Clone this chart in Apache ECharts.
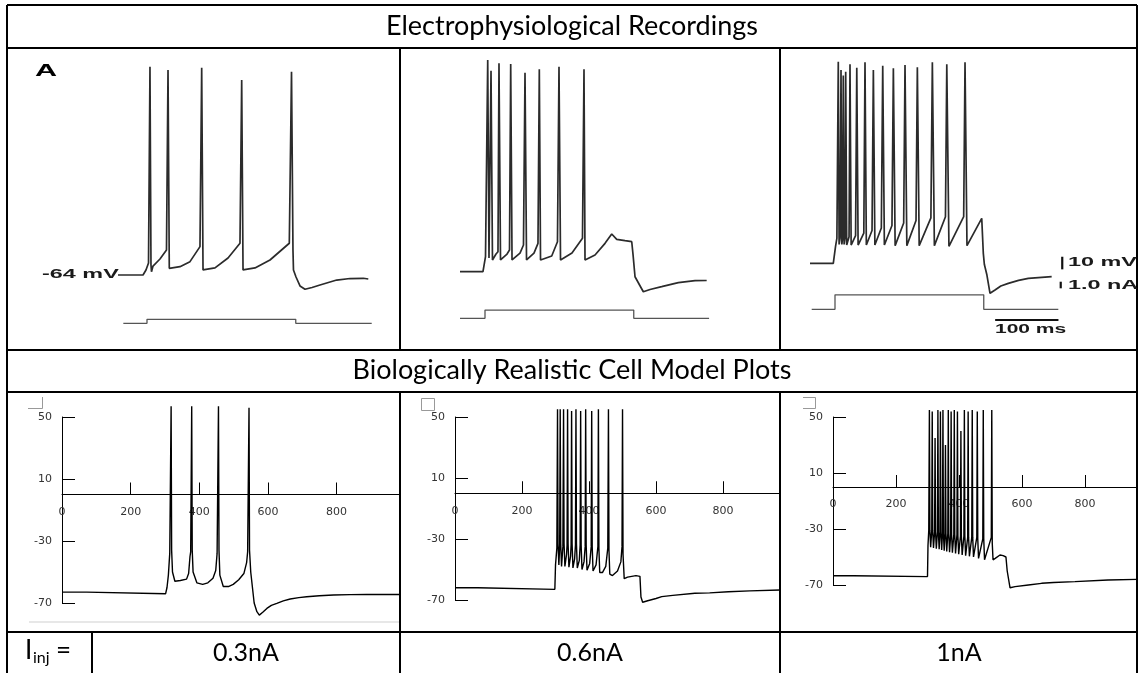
<!DOCTYPE html>
<html>
<head>
<meta charset="utf-8">
<script src="https://cdn.jsdelivr.net/npm/echarts@6/dist/echarts.min.js"></script>
<style>
  html, body { margin: 0; padding: 0; background: #fff; }
  #chart { width: 1139px; height: 673px; }
</style>
</head>
<body>
<div id="chart"></div>
<script>
// ---- Text ----
const headerTop = 'Electrophysiological Recordings';
const headerBottom = 'Biologically Realistic Cell Model Plots';
const currents = ['0.3nA', '0.6nA', '1nA'];

// ---- Model plot ticks ----
const yTickValues = [-70, -30, 10, 50];
const xTickValues = [0, 200, 400, 600, 800];

// ---- Recorded membrane potential, [ms from step onset, mV] ----
const rec03 = [
  [-45.8,-64],[-6.3,-64],[-1.6,-60],[2.4,-54.5],[4.7,101.3],[6.3,-56.1],[7.1,-61.4],[9.5,-56.9],[20.5,-51.3],[30.8,-44.2],
  [33.2,98.7],[35.2,-58.7],[52.1,-57.4],[67.9,-53.4],[83.7,-41.5],
  [86.4,100.5],[88.5,-60],[107.4,-58.4],[128,-50.5],[146.9,-38.8],
  [149.6,90.8],[151.7,-60],[170.6,-58.4],[194.3,-52.1],[224.8,-38.8],
  [228.3,97.3],[230.6,-44.2],[231.4,-60],[235.4,-65.6],[241.7,-72.7],[249.6,-75.3],[260.7,-73.9],[273.3,-71.9],
  [299.7,-68],[320.7,-66.8],[341.7,-66.6],[349.6,-67.2]
];
const rec06 = [
  [-39.5,-64],[-3.2,-64],[0.8,-52.1],
  [4.3,104],[6.3,-53.1],
  [9.5,95.5],[11.8,-54.7],[17.4,-50],[20.5,-48.1],
  [22.1,101.4],[24.5,-54.7],[34.8,-50],[38.7,-46.8],
  [40.6,100.8],[42.7,-54.7],[55.3,-49.2],[60.8,-42.8],
  [63.2,93.9],[65.6,-54.7],[77.4,-49.2],[83.7,-41.5],
  [85.8,96.6],[87.7,-54.7],[105.4,-51.5],[114.5,-40.2],
  [116.9,98.7],[119.3,-54.7],[137.4,-49.2],[154,-37.5],
  [156.4,96.6],[158,-54.7],[173.8,-50.7],[189.6,-41.5],[200.2,-34.1],[208.1,-38.3],[221.2,-39.4],[231.8,-40.2],
  [233.9,-50.7],[237,-68],[250.1,-79.9],[260.7,-78.1],[279.1,-75.9],[305.4,-72.7],[331.8,-71.1],[350.2,-71]
];
const rec10 = [
  [-39.5,-64],[-2.7,-64],[0.8,-50.8],[3,-44],
  [5.2,96],[6.5,-49],[8,-44],
  [9.5,89.4],[10.8,-49],[12,-44],
  [13.1,85],[14.4,-49],[15.8,-44],
  [16.9,88.1],[18.5,-49.5],[22.2,-43],
  [23.7,94],[25.5,-49.5],[32.5,-42],
  [34.4,91.2],[36.5,-49.5],[45.5,-40],
  [47.4,95.5],[49.5,-49.5],[58.5,-38],
  [60.6,89.4],[63,-49.5],[73.2,-36],
  [75.4,92.8],[78,-49.5],[90,-34],
  [92.2,90.8],[95,-50],[108.5,-32],
  [110.6,93.4],[113.5,-50],[128,-30],
  [130.1,91.6],[133,-50],[151.5,-28],
  [153.8,95.5],[157,-50],[174.5,-27],
  [176.6,94],[180,-50.5],[203.3,-27],
  [205.4,95.5],[208.5,-50],[231.8,-28.3],[234.3,-56.1],[236,-65],
  [240,-73.3],[244.9,-87.8],[252.8,-85.2],[262,-82],[273.8,-79.9],[290,-77.5],[305.4,-75.9],[342.3,-74.6]
];

// ---- Injected current steps, [ms from step onset, nA] ----
const stim03 = [[-37.4,0],[0,0],[0,0.6],[235,0.6],[235,0],[355,0]];
const stim06 = [[-39.5,0],[0,0],[0,1.25],[235,1.25],[235,0],[354,0]];
const stim10 = [[-36.8,0],[0,0],[0,2.2],[235,2.2],[235,0],[352.8,0]];

// ---- Scale bars of the recordings ----
const barMs = [[253,-109],[353,-109]];   // 100 ms
const barMv = [[359,-58.8],[359,-68.8]]; // 10 mV
const barNa = [[356.6,4.18],[356.6,3.18]]; // 1.0 nA

// ---- Model membrane potential, [ms, mV] ----
const model03 = [
  [0,-63],[72,-63],[76,-64],[302,-64],[306,-60],[310,-52],[314,-38],
  [318,57],[319.5,-36],[322,-50],[329,-56],[345,-55.5],[363,-54.6],[369,-51],[373,-40],[375,-37],
  [378,57],[379.5,-36],[382,-50],[393,-57],[410,-58],[425,-57],[440,-54],[448,-49],[452,-38],
  [456,57],[457.5,-36],[460,-52],[470,-59.4],[485,-59.4],[499,-58],[515,-55],[530,-51],[538,-44],[541,-37],
  [545,56],[546.5,-36],[550,-50],[560,-70],[568,-75.6],[575,-77.8],[585,-76],[597,-73.5],[610,-71.5],
  [626,-70.2],[645,-68.6],[665,-67.4],[690,-66.5],[713,-66],[750,-65.3],[791,-64.8],[840,-64.6],[888,-64.5],[985,-64.5]
];
const model06 = [
  [0,-62],[68,-62],[72,-63],[298,-63],[300,-47],[304,-36],
  [306,55],[307.5,-33],[310,-47],[312.5,-34],
  [314,55],[315.5,-33],[318,-48],[322,-35],
  [324,55],[325.5,-33],[328,-48],[333,-40],[334.5,-34],
  [336,55],[337.5,-33],[340,-48.5],[345,-41],[346.5,-34],
  [348,54],[349.5,-33],[352,-49],[357,-43],[359.5,-34],
  [361,55],[362.5,-33],[365,-49],[371,-44],[373.5,-34],
  [375,54],[376.5,-34],[379,-50],[385,-45],[388.5,-35],
  [390,55],[391.5,-34],[394,-50.5],[402,-46],[406.5,-35],
  [408,54],[409.5,-35],[412,-51],[421,-47],[426.5,-35],
  [428,55],[429.5,-36],[432,-52],[440,-52],[450,-48],[456,-36],
  [458,55],[459.5,-37],[462,-53],[470,-54],[485,-51],[495,-45],[498.5,-35],
  [500,55],[501.5,-40],[505,-56],[515,-55],[540,-54],[552,-54.5],[555,-68],[560,-71.5],[575,-70.5],
  [600,-69],[617,-67.8],[650,-67],[716,-65.6],[760,-65.3],[816,-64.6],[880,-64],[970,-63.4]
];
const model10 = [
  [0,-63.4],[65,-63.4],[70,-64],[300,-64],[301.5,-42],[304,-31],
  [306,55],[307.5,-31],[310,-43],[313.5,-31],
  [315,54],[316.5,-31],[319,-43.5],[322.5,-32],
  [324,35],[325.5,-32],[328,-44],[331.5,-32],
  [333,55],[334.5,-32],[337,-44.5],[339.5,-32],
  [341,54],[342.5,-32],[345,-45],[347.5,-33],
  [349,55],[350.5,-33],[353,-45.5],[355.5,-33],
  [357,30],[358.5,-33],[361,-46],[364.5,-33],
  [366,55],[367.5,-33],[370,-46.5],[373.5,-34],
  [375,54],[376.5,-34],[379,-47],[383.5,-34],
  [385,55],[386.5,-34],[389,-47.5],[393.5,-34],
  [395,54],[396.5,-35],[399,-48],[404.5,-35],
  [406,40],[407.5,-35],[410,-48.5],[415.5,-35],
  [417,55],[418.5,-35],[421,-49],[427.5,-36],
  [429,54],[430.5,-36],[433,-49.5],[440.5,-36],
  [442,55],[443.5,-36],[446,-50],[456.5,-36],
  [458,54],[459.5,-37],[462,-51],[475.5,-37],
  [477,55],[478.5,-37],[481,-52],[502.5,-36],
  [504,55],[505.5,-40],[508,-52],[515,-51],[530,-48.6],[540,-49],[549,-50],[553,-60],[562,-72],
  [578,-71.2],[620,-70],[662,-68.8],[700,-68.2],[768,-67.6],[873,-66.4],[965,-66]
];

// ---- Layout ----
const TABLE = { left: 7, right: 1137, top: 5, rows: [48, 350, 392, 632], bottom: 673, cols: [400, 780], labelCol: 92 };
const FONT = 'Lato, "Open Sans", sans-serif';

// recording panels: pixel scale of time / voltage / current
const PX_MS = 0.633, PX_MV = 1.26, PX_NA = 6.6;
const recTop = 49, recBottom = 349;
const recPanels = [
  { left: 8,   right: 399,  onset: 147, vRest: 275,   iZero: 323.3, v: rec03, i: stim03 },
  { left: 401, right: 779,  onset: 485, vRest: 271.7, iZero: 318.3, v: rec06, i: stim06 },
  { left: 782, right: 1136, onset: 835, vRest: 263.3, iZero: 309.3, v: rec10, i: stim10 }
];
// model panels (y range -70..50 mV, x axis drawn through 0 mV)
const Y_MIN = -70, Y_MAX = 50;
const modelPanels = [
  { left: 62,  right: 400,  top: 417, bottom: 603, xMax: 985, v: model03 },
  { left: 455, right: 780,  top: 417, bottom: 600, xMax: 970, v: model06 },
  { left: 833, right: 1137, top: 417, bottom: 585, xMax: 965, v: model10 }
];

const grids = [], xAxes = [], yAxes = [], series = [];

recPanels.forEach((p, k) => {
  const h = recBottom - recTop;
  grids.push({ left: p.left, top: recTop, width: p.right - p.left, height: h });
  const xMin = -(p.onset - p.left) / PX_MS;
  xAxes.push({ type: 'value', gridIndex: k, show: false, min: xMin, max: xMin + (p.right - p.left) / PX_MS });
  const vMax = -64 + (p.vRest - recTop) / PX_MV;
  yAxes.push({ type: 'value', gridIndex: k, show: false, min: vMax - h / PX_MV, max: vMax });
  const iMax = (p.iZero - recTop) / PX_NA;
  yAxes.push({ type: 'value', gridIndex: k, show: false, min: iMax - h / PX_NA, max: iMax });
  series.push({
    type: 'line', xAxisIndex: k, yAxisIndex: 2 * k, data: p.v, symbol: 'none', silent: true,
    lineStyle: { color: '#2b2b2b', width: 1.7 }
  });
  series.push({
    type: 'line', xAxisIndex: k, yAxisIndex: 2 * k + 1, data: p.i, symbol: 'none', silent: true,
    lineStyle: { color: '#555', width: 1.3 }
  });
});
// scale bars in the third recording
[[barMs, 4], [barMv, 4], [barNa, 5]].forEach(([d, yi]) => {
  series.push({
    type: 'line', xAxisIndex: 2, yAxisIndex: yi, data: d, symbol: 'none', silent: true,
    lineStyle: { color: '#111', width: 2.2 }
  });
});

modelPanels.forEach((p, k) => {
  const gi = 3 + k;
  const h = p.bottom - p.top;
  grids.push({ left: p.left, top: p.top, width: p.right - p.left, height: h });
  const lbl = { fontFamily: '"DejaVu Sans", sans-serif', fontSize: 11, color: '#333' };
  xAxes.push({
    type: 'value', gridIndex: gi, min: 0, max: p.xMax, position: 'bottom',
    // lift the time axis from the grid bottom up to the 0 mV level
    offset: -h * (0 - Y_MIN) / (Y_MAX - Y_MIN),
    axisLine: { onZero: false, lineStyle: { color: '#000', width: 1 } },
    axisTick: { inside: true, length: 12, customValues: xTickValues, lineStyle: { color: '#000' } },
    axisLabel: Object.assign({ customValues: xTickValues, margin: 12 }, lbl),
    splitLine: { show: false }
  });
  yAxes.push({
    type: 'value', gridIndex: gi, min: Y_MIN, max: Y_MAX,
    axisLine: { show: true, onZero: false, lineStyle: { color: '#000', width: 1 } },
    axisTick: { show: true, inside: true, length: 13, customValues: yTickValues, lineStyle: { color: '#000' } },
    axisLabel: Object.assign({ customValues: yTickValues, margin: 10 }, lbl),
    splitLine: { show: false }
  });
  series.push({
    type: 'line', xAxisIndex: gi, yAxisIndex: 6 + k, data: p.v, symbol: 'none', silent: true, clip: false,
    lineStyle: { color: '#000', width: 1.4 }
  });
});

// ---- Table frame ----
const graphic = [];
function hline(y, x1, x2, c, w) { graphic.push({ type: 'line', silent: true, shape: { x1: x1, y1: y, x2: x2, y2: y }, style: { stroke: c || '#000', lineWidth: w || 2 } }); }
function vline(x, y1, y2, c, w) { graphic.push({ type: 'line', silent: true, shape: { x1: x, y1: y1, x2: x, y2: y2 }, style: { stroke: c || '#000', lineWidth: w || 2 } }); }
function text(t, x, y, font, opt) {
  graphic.push(Object.assign({
    type: 'text', silent: true, x: x, y: y,
    style: Object.assign({ text: t, font: font, fill: '#000', textAlign: 'center', align: 'center', textVerticalAlign: 'middle', verticalAlign: 'middle' }, (opt && opt.style) || {})
  }, (opt && opt.el) || {}));
}

hline(TABLE.top, TABLE.left, TABLE.right);
TABLE.rows.forEach(y => hline(y, TABLE.left, TABLE.right));
vline(TABLE.left, TABLE.top, TABLE.bottom);
vline(TABLE.right, TABLE.top, TABLE.bottom);
TABLE.cols.forEach(x => { vline(x, TABLE.rows[0], TABLE.rows[1]); vline(x, TABLE.rows[2], TABLE.bottom); });
vline(TABLE.labelCol, TABLE.rows[3], TABLE.bottom);

// header texts
text(headerTop, 572, 26, '27px ' + FONT);
text(headerBottom, 572, 370, '27px ' + FONT);
const labelCenters = [246, 590, 959];
currents.forEach((c, k) => text(c, labelCenters[k], 653, '25px ' + FONT));
// I_inj =
text('I', 25, 651, '26px ' + FONT, { style: { textAlign: 'left', align: 'left' } });
text('inj', 33, 658, '16px ' + FONT, { style: { textAlign: 'left', align: 'left' } });
text('=', 56, 651, '26px ' + FONT, { style: { textAlign: 'left', align: 'left' } });

// recording annotations (wide bold lettering)
const annFont = 'bold 12px "Liberation Sans", Arial, sans-serif';
const wideMv = { style: { textAlign: 'left', align: 'left', fill: '#1a1a1a' }, el: { scaleX: 1.95 } };
const wideMs = { style: { textAlign: 'left', align: 'left', fill: '#1a1a1a' }, el: { scaleX: 1.75 } };
text('A', 35, 71, 'bold 17px "Liberation Sans", Arial, sans-serif', { style: { textAlign: 'left', align: 'left' }, el: { scaleX: 1.8 } });
text('-64 mV', 42, 275, annFont, wideMv);
text('10 mV', 1068, 263, annFont, wideMv);
text('1.0 nA', 1068, 286, annFont, wideMv);
text('100 ms', 995, 330, annFont, wideMs);

// model plot frame marks
hline(622, 29, 399, '#cfcfcf', 1);
graphic.push({ type: 'polyline', silent: true, shape: { points: [[28, 408.5], [42.5, 408.5], [42.5, 397]] }, style: { stroke: '#999', lineWidth: 1, fill: null } });
graphic.push({ type: 'rect', silent: true, shape: { x: 421.5, y: 398.5, width: 13, height: 12 }, style: { stroke: '#999', lineWidth: 1, fill: null } });
graphic.push({ type: 'polyline', silent: true, shape: { points: [[803, 397.5], [815.5, 397.5], [815.5, 408.5], [803, 408.5]] }, style: { stroke: '#999', lineWidth: 1, fill: null } });

const chart = echarts.init(document.getElementById('chart'), null, { renderer: 'canvas' });
chart.setOption({
  animation: false,
  backgroundColor: '#fff',
  grid: grids,
  xAxis: xAxes,
  yAxis: yAxes,
  series: series,
  graphic: { elements: graphic }
});
</script>
</body>
</html>
